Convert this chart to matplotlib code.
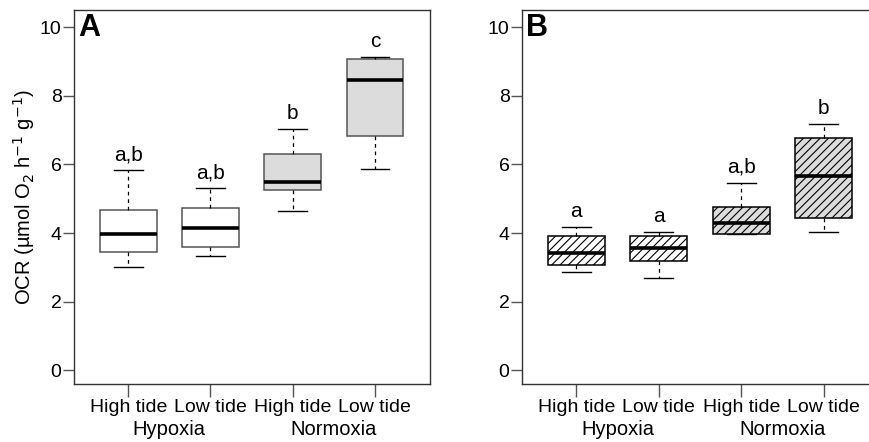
import matplotlib
matplotlib.use('Agg')
from matplotlib import pyplot as plt
from matplotlib.transforms import blended_transform_factory

plt.rcParams['font.family'] = ['Liberation Sans', 'DejaVu Sans']
plt.rcParams['hatch.linewidth'] = 0.8

# box stats: whislo, q1, med, q3, whishi
tide_labels = ['High tide', 'Low tide', 'High tide', 'Low tide']
groups = ['Hypoxia', 'Normoxia']

a_whislo = [3.02, 3.33, 4.63, 5.88]
a_q1 = [3.44, 3.60, 5.24, 6.84]
a_med = [3.97, 4.15, 5.48, 8.46]
a_q3 = [4.66, 4.73, 6.30, 9.06]
a_whishi = [5.83, 5.31, 7.03, 9.13]
a_letters = ['a,b', 'a,b', 'b', 'c']

b_whislo = [2.85, 2.70, 3.96, 4.02]
b_q1 = [3.06, 3.18, 3.98, 4.44]
b_med = [3.43, 3.55, 4.29, 5.67]
b_q3 = [3.92, 3.92, 4.76, 6.77]
b_whishi = [4.18, 4.04, 5.47, 7.18]
b_letters = ['a', 'a', 'a,b', 'b']

fills = ['white', 'white', '#dcdcdc', '#dcdcdc']


def draw_panel(ax, lo, q1, med, q3, hi, letters, panel, edge, hatch):
    stats = []
    for i in range(4):
        stats.append({'whislo': lo[i], 'q1': q1[i], 'med': med[i],
                      'q3': q3[i], 'whishi': hi[i], 'fliers': []})
    bp = ax.bxp(stats, positions=[1, 2, 3, 4], widths=0.69, patch_artist=True,
                showfliers=False,
                boxprops=dict(edgecolor=edge, linewidth=1.1),
                medianprops=dict(color='black', linewidth=2.6),
                whiskerprops=dict(color='black', linewidth=0.9, linestyle=(0, (3, 3))),
                capprops=dict(color='black', linewidth=1.0),
                capwidths=0.35)
    for patch, c in zip(bp['boxes'], fills):
        patch.set_facecolor(c)
        if hatch:
            patch.set_hatch(hatch)
    for i in range(4):
        ax.text(i + 1, hi[i] + 0.17, letters[i], ha='center', va='bottom', fontsize=15)

    ax.set_xlim(0.34, 4.67)
    ax.set_ylim(-0.4, 10.5)
    ax.set_yticks([0, 2, 4, 6, 8, 10])
    ax.set_xticks([1, 2, 3, 4])
    ax.set_xticklabels(tide_labels)
    ax.tick_params(axis='both', labelsize=14, color='#555555', width=1.0)
    ax.tick_params(axis='y', length=8, pad=1)
    ax.tick_params(axis='x', length=9, pad=2)
    for s in ax.spines.values():
        s.set_color('#333333')
        s.set_linewidth(1.0)
    trans = blended_transform_factory(ax.transData, ax.transAxes)
    ax.text(1.5, -0.095, groups[0], transform=trans, ha='center', va='top', fontsize=14.5)
    ax.text(3.5, -0.095, groups[1], transform=trans, ha='center', va='top', fontsize=14.5)
    ax.text(0.39, 10.4, panel, ha='left', va='top', fontsize=22, fontweight='bold')


fig = plt.figure(figsize=(8.69, 4.42), dpi=100)
axA = fig.add_axes([74 / 869, 58 / 442, 356 / 869, 374 / 442])
axB = fig.add_axes([522 / 869, 58 / 442, 357 / 869, 374 / 442])

draw_panel(axA, a_whislo, a_q1, a_med, a_q3, a_whishi, a_letters, 'A', '#555555', None)
draw_panel(axB, b_whislo, b_q1, b_med, b_q3, b_whishi, b_letters, 'B', 'black', '////')

axA.set_ylabel('OCR (µmol O$_2$ h$^{-1}$ g$^{-1}$)', fontsize=14.5, labelpad=2)

fig.savefig('out.png', dpi=100)
